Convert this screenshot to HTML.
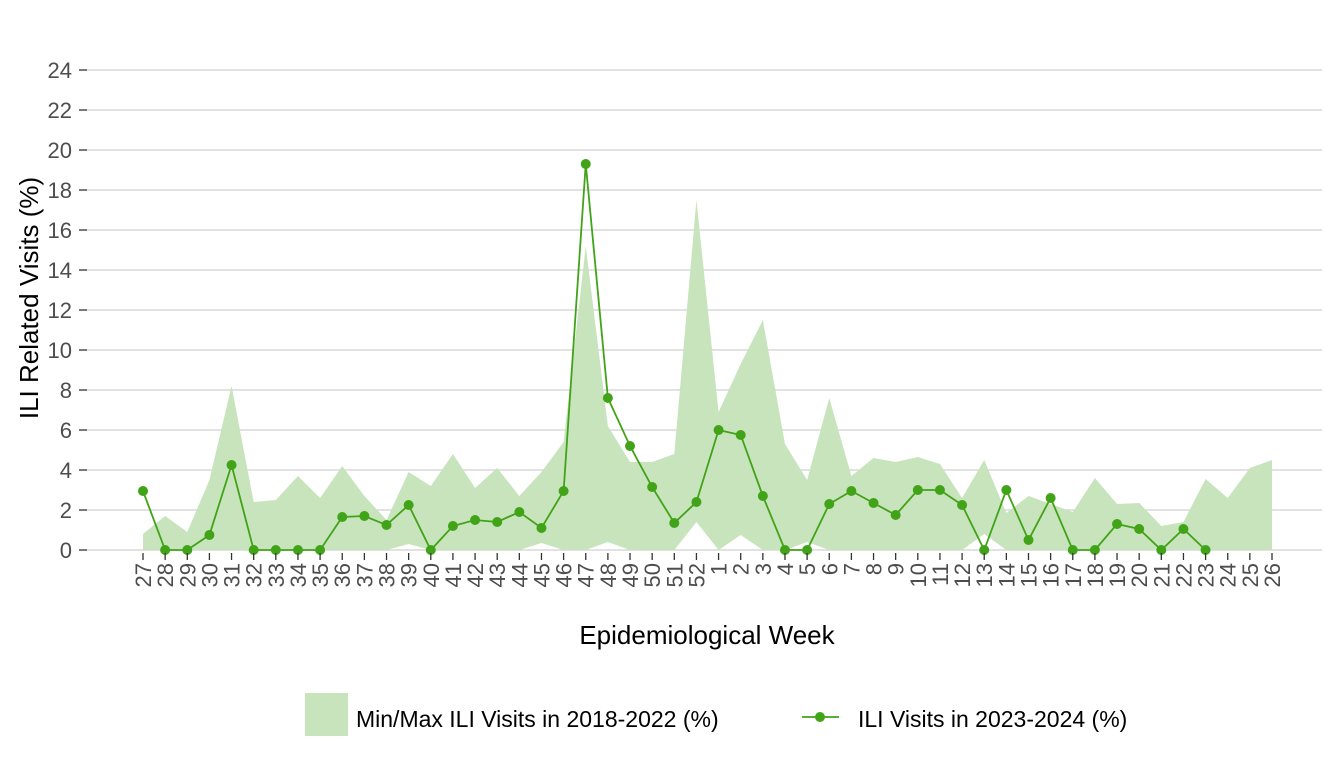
<!DOCTYPE html>
<html><head><meta charset="utf-8"><style>
body{margin:0;background:#fff}
svg{display:block;font-family:"Liberation Sans",sans-serif}
</style></head><body>
<svg id="s" width="1344" height="768" xmlns="http://www.w3.org/2000/svg"></svg>
<script>
const weeks=[27,28,29,30,31,32,33,34,35,36,37,38,39,40,41,42,43,44,45,46,47,48,49,50,51,52,1,2,3,4,5,6,7,8,9,10,11,12,13,14,15,16,17,18,19,20,21,22,23,24,25,26];
const mx=[0.8,1.7,0.9,3.5,8.2,2.4,2.5,3.7,2.6,4.2,2.7,1.5,3.9,3.2,4.8,3.1,4.1,2.7,3.9,5.4,15.2,6.2,4.4,4.4,4.8,17.5,6.9,9.3,11.5,5.3,3.5,7.6,3.7,4.6,4.4,4.65,4.3,2.6,4.5,1.85,2.7,2.3,1.9,3.6,2.3,2.35,1.2,1.4,3.55,2.6,4.1,4.5];
const mn=weeks.map(()=>0);
mn[12]=0.3;mn[18]=0.35;mn[21]=0.4;mn[25]=1.4;mn[27]=0.75;mn[30]=0.4;mn[38]=0.8;
const ln=[2.95,0,0,0.75,4.25,0,0,0,0,1.65,1.7,1.25,2.25,0,1.2,1.5,1.4,1.9,1.1,2.95,19.3,7.6,5.2,3.15,1.35,2.4,6.0,5.75,2.7,0,0,2.3,2.95,2.35,1.75,3.0,3.0,2.25,0,3.0,0.5,2.6,0,0,1.3,1.05,0,1.05,0];
const X=i=>143+i*(1272-143)/51, Y=v=>550-v*20;
let h='';
for(let v=0;v<=24;v+=2){h+=`<line x1="87" x2="1322" y1="${Y(v)}" y2="${Y(v)}" stroke="#d0d0d0" stroke-width="1.3"/><line x1="79" x2="87" y1="${Y(v)}" y2="${Y(v)}" stroke="#333" stroke-width="1.3"/><text x="72" y="${Y(v)+8}" font-size="22" fill="#4d4d4d" text-anchor="end">${v}</text>`;}
let p='';weeks.forEach((w,i)=>p+=`${X(i)},${Y(mx[i])} `);
for(let i=51;i>=0;i--)p+=`${X(i)},${Y(mn[i])} `;
h+=`<polygon points="${p}" fill="#c8e4bc"/>`;
let lp=ln.map((v,i)=>`${X(i)},${Y(v)}`).join(' ');
h+=`<polyline points="${lp}" fill="none" stroke="#41a317" stroke-width="1.8"/>`;
ln.forEach((v,i)=>h+=`<circle cx="${X(i)}" cy="${Y(v)}" r="5" fill="#41a317"/>`);
weeks.forEach((w,i)=>{h+=`<line x1="${X(i)}" x2="${X(i)}" y1="553" y2="560" stroke="#333" stroke-width="1.3"/><text transform="translate(${X(i)+8},563) rotate(-90)" font-size="22" fill="#4d4d4d" text-anchor="end">${w}</text>`;});
h+=`<text transform="translate(38,298) rotate(-90)" font-size="26" text-anchor="middle" fill="#000">ILI Related Visits (%)</text>`;
h+=`<text x="707" y="644" font-size="26" text-anchor="middle" fill="#000">Epidemiological Week</text>`;
h+=`<rect x="305" y="693" width="43" height="43" fill="#c8e4bc"/><text x="356" y="727" font-size="23" fill="#000">Min/Max ILI Visits in 2018-2022 (%)</text>`;
h+=`<line x1="802" x2="839" y1="717" y2="717" stroke="#41a317" stroke-width="1.8"/><circle cx="820" cy="717" r="5" fill="#41a317"/><text x="858" y="727" font-size="23" fill="#000">ILI Visits in 2023-2024 (%)</text>`;
document.getElementById('s').innerHTML=h;
</script>
</body></html>
